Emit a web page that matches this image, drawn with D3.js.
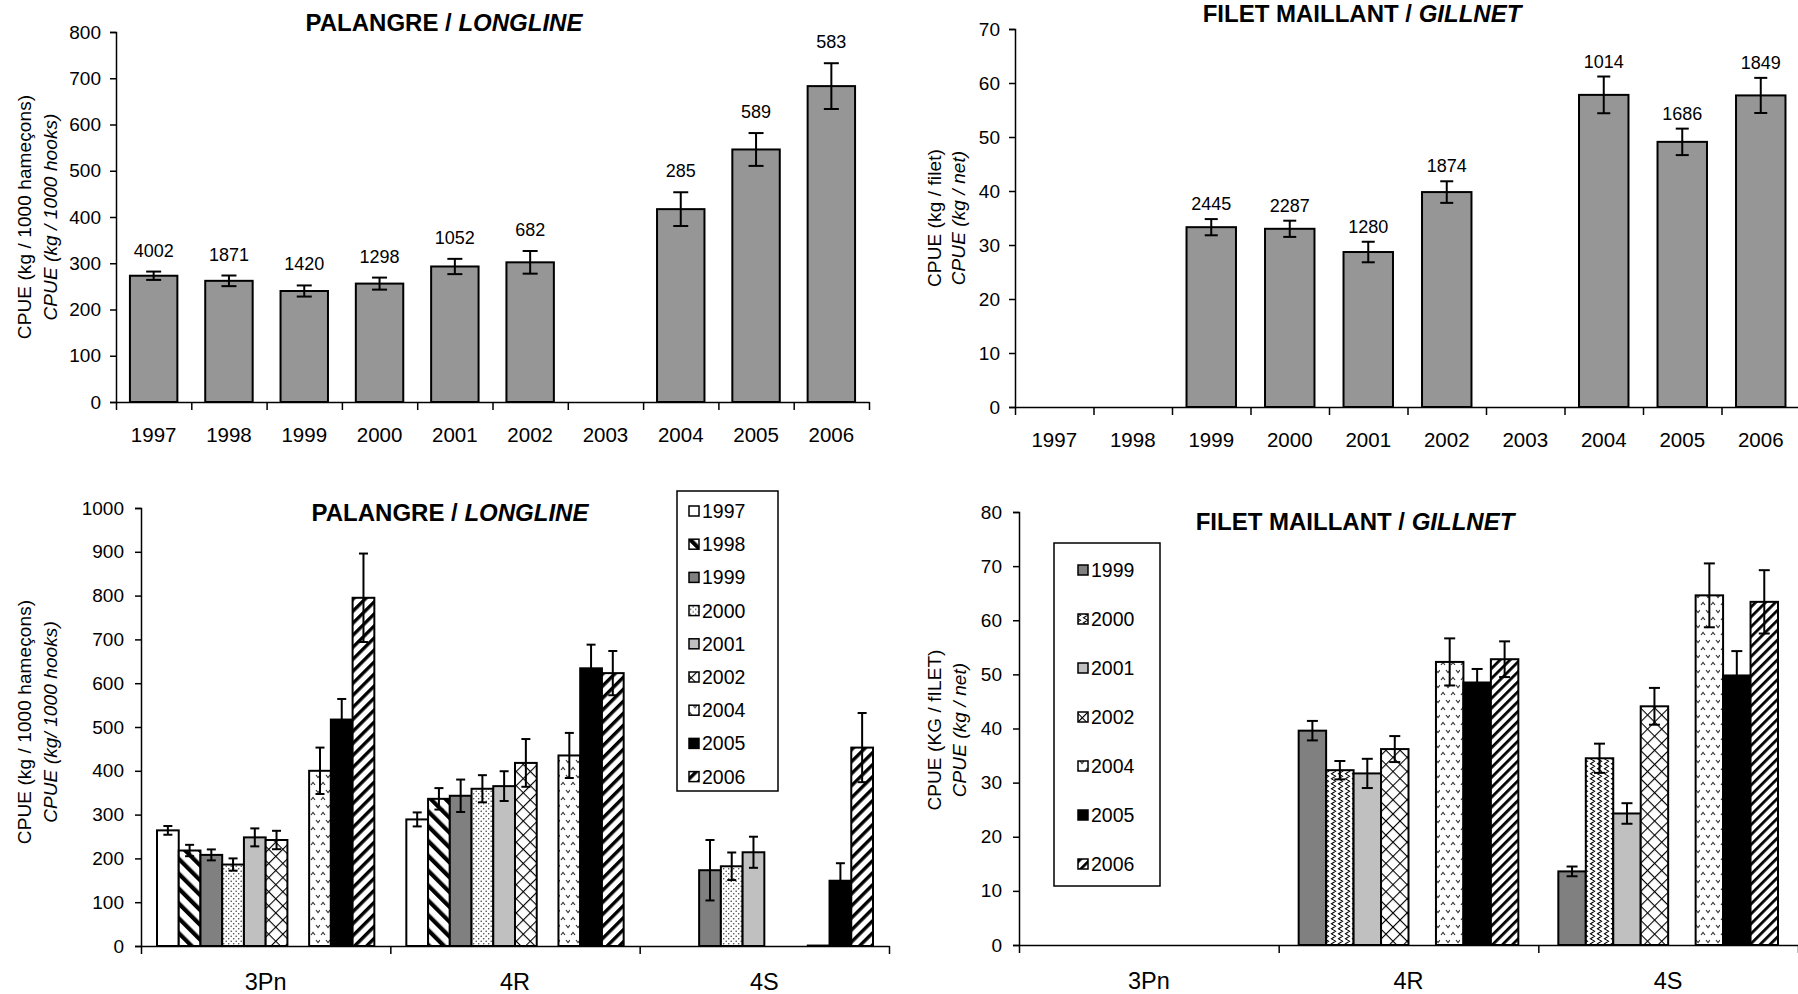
<!DOCTYPE html>
<html>
<head>
<meta charset="utf-8">
<script src="https://cdn.jsdelivr.net/npm/d3@7"></script>
<style>
  body { margin: 0; background: #fff; }
  svg { font-family: "Liberation Sans", Arial, sans-serif; }
</style>
</head>
<body>
<svg id="chart" width="1798" height="994"></svg>
<script>
// ---- data ----
const years = ['1997', '1998', '1999', '2000', '2001', '2002', '2003', '2004', '2005', '2006'];

// top left: longline CPUE by year
const llCpue = [273, 262, 240, 256, 293, 302, null, 417, 546, 683];
const llErr = [9, 11.5, 12, 13, 16.5, 24.5, null, 36.5, 35.5, 49.5];
const llN = ['4002', '1871', '1420', '1298', '1052', '682', '', '285', '589', '583'];

// top right: gillnet CPUE by year
const gnCpue = [null, null, 33.3, 33.0, 28.7, 39.8, null, 57.8, 49.1, 57.7];
const gnErr = [null, null, 1.5, 1.5, 1.9, 2.0, null, 3.4, 2.45, 3.25];
const gnN = ['', '', '2445', '2287', '1280', '1874', '', '1014', '1686', '1849'];

// bottom: by region
const regions = ['3Pn', '4R', '4S'];

// longline series (2003 slot is empty, not in legend)
const llYears = ['1997', '1998', '1999', '2000', '2001', '2002', '2003', '2004', '2005', '2006'];
const ll3Pn = [264, 218, 208, 186, 248, 242, null, 400, 517, 795];
const ll3PnErr = [10, 13, 12.5, 14, 20.5, 21, null, 53, 47, 101];
const ll4R = [289, 336, 343, 359, 365, 418, null, 435, 634, 623];
const ll4RErr = [16, 24.5, 37, 31, 34, 54.5, null, 51.5, 54, 50.5];
const ll4S = [null, null, 173, 182, 214, null, null, 1, 149, 453];
const ll4SErr = [null, null, 69, 31.5, 35.5, null, null, null, 40, 79];

// gillnet series
const gnYears = ['1999', '2000', '2001', '2002', '2003', '2004', '2005', '2006'];
const gn3Pn = [null, null, null, null, null, null, null, null];
const gn3PnErr = [null, null, null, null, null, null, null, null];
const gn4R = [39.6, 32.3, 31.7, 36.2, null, 52.3, 48.5, 52.8];
const gn4RErr = [1.8, 1.7, 2.7, 2.4, null, 4.35, 2.5, 3.3];
const gn4S = [13.6, 34.5, 24.3, 44.1, null, 64.6, 49.8, 63.4];
const gn4SErr = [0.9, 2.7, 1.9, 3.4, null, 5.9, 4.5, 5.85];

const svg = d3.select('#chart');
const defs = svg.append('defs');

// ---- patterns ----
function stripes(id, angle, period, thick) {
    const p = defs.append('pattern').attr('id', id)
        .attr('patternUnits', 'userSpaceOnUse')
        .attr('width', period).attr('height', period)
        .attr('patternTransform', 'rotate(' + angle + ')');
    p.append('rect').attr('width', period).attr('height', period).attr('fill', '#fff');
    p.append('rect').attr('width', thick).attr('height', period).attr('fill', '#000');
}
stripes('back', -45, 10.5, 4.2);
stripes('fwd', 45, 8.5, 3.4);
stripes('fwdS', 45, 7, 2.8);

let p = defs.append('pattern').attr('id', 'hatch')
    .attr('patternUnits', 'userSpaceOnUse').attr('width', 10).attr('height', 10)
    .attr('patternTransform', 'rotate(45)');
p.append('rect').attr('width', 10).attr('height', 10).attr('fill', '#fff');
p.append('line').attr('x1', 0).attr('y1', 0).attr('x2', 0).attr('y2', 10).attr('stroke', '#000').attr('stroke-width', 2.2);
p.append('line').attr('x1', 0).attr('y1', 0).attr('x2', 10).attr('y2', 0).attr('stroke', '#000').attr('stroke-width', 2.2);

p = defs.append('pattern').attr('id', 'dots')
    .attr('patternUnits', 'userSpaceOnUse').attr('width', 5).attr('height', 5);
p.append('rect').attr('width', 5).attr('height', 5).attr('fill', '#fff');
p.append('circle').attr('cx', 1.2).attr('cy', 1.2).attr('r', 0.8).attr('fill', '#444');
p.append('circle').attr('cx', 3.7).attr('cy', 3.7).attr('r', 0.8).attr('fill', '#444');

p = defs.append('pattern').attr('id', 'chev')
    .attr('patternUnits', 'userSpaceOnUse').attr('width', 10).attr('height', 15);
p.append('rect').attr('width', 10).attr('height', 15).attr('fill', '#fff');
p.append('path').attr('d', 'M1,5 L3,2.5 L5,5').attr('fill', 'none').attr('stroke', '#333').attr('stroke-width', 1.2);
p.append('path').attr('d', 'M6,10 L8,12.5 L10,10').attr('fill', 'none').attr('stroke', '#333').attr('stroke-width', 1.2);

p = defs.append('pattern').attr('id', 'wave')
    .attr('patternUnits', 'userSpaceOnUse').attr('width', 7).attr('height', 5);
p.append('rect').attr('width', 7).attr('height', 5).attr('fill', '#fff');
p.append('path').attr('d', 'M3.5,0 L5.5,1.25 L3.5,2.5 L1.5,3.75 L3.5,5').attr('fill', 'none').attr('stroke', '#000').attr('stroke-width', 1.1);

const llFill = {
    '1997': '#fff', '1998': 'url(#back)', '1999': '#808080', '2000': 'url(#dots)',
    '2001': '#c0c0c0', '2002': 'url(#hatch)', '2003': '#fff', '2004': 'url(#chev)',
    '2005': '#000', '2006': 'url(#fwd)'
};
const gnFill = {
    '1999': '#808080', '2000': 'url(#wave)', '2001': '#c0c0c0', '2002': 'url(#hatch)',
    '2003': '#fff', '2004': 'url(#chev)', '2005': '#000', '2006': 'url(#fwdS)'
};

// ---- helpers ----
function yAxis(y, ticks, x0, pad) {
    const g = svg.append('g')
        .attr('transform', 'translate(' + x0 + ',0)')
        .call(d3.axisLeft(y).tickValues(ticks).tickSize(6).tickPadding(pad).tickFormat(d3.format('d')));
    g.selectAll('path, line').attr('stroke', '#000').attr('stroke-width', 1.5);
    g.selectAll('text').attr('font-size', 19).attr('fill', '#000')
        .attr('font-family', '"Liberation Sans", Arial, sans-serif');
}

function xAxis(x, n, left, right, y0, pad, fs) {
    const xb = d3.scaleLinear().domain([0, n]).range([left, right]);
    const g = svg.append('g')
        .attr('transform', 'translate(0,' + y0 + ')')
        .call(d3.axisBottom(xb).tickValues(d3.range(n + 1)).tickFormat('').tickSizeInner(8).tickSizeOuter(0));
    g.selectAll('path, line').attr('stroke', '#000').attr('stroke-width', 1.5);
    const gl = svg.append('g')
        .attr('transform', 'translate(0,' + y0 + ')')
        .call(d3.axisBottom(x).tickSize(0).tickPadding(pad));
    gl.select('.domain').remove();
    gl.selectAll('text').attr('font-size', fs).attr('fill', '#000')
        .attr('font-family', '"Liberation Sans", Arial, sans-serif');
}

function title(x, y, a, b) {
    const t = svg.append('text').attr('x', x).attr('y', y)
        .attr('text-anchor', 'middle').attr('font-size', 24).attr('font-weight', 'bold');
    t.append('tspan').text(a + ' / ');
    t.append('tspan').attr('font-style', 'italic').text(b);
}

function yTitle(x1, x2, cy, a, b) {
    svg.append('text').attr('transform', 'translate(' + x1 + ',' + cy + ') rotate(-90)')
        .attr('text-anchor', 'middle').attr('dy', '0.35em').attr('font-size', 19)
        .attr('letter-spacing', 0.1).text(a);
    svg.append('text').attr('transform', 'translate(' + x2 + ',' + cy + ') rotate(-90)')
        .attr('text-anchor', 'middle').attr('dy', '0.35em').attr('font-size', 19)
        .attr('letter-spacing', 0.1).attr('font-style', 'italic').text(b);
}

function errBars(g, rows, cap) {
    const eg = g.selectAll('.err').data(rows.filter(d => d.v != null && d.e != null))
        .enter().append('g').attr('stroke', '#000').attr('stroke-width', 2);
    eg.append('line').attr('x1', d => d.cx).attr('x2', d => d.cx)
        .attr('y1', d => d.y(d.v + d.e)).attr('y2', d => d.y(d.v - d.e));
    eg.append('line').attr('x1', d => d.cx - cap / 2).attr('x2', d => d.cx + cap / 2)
        .attr('y1', d => d.y(d.v + d.e)).attr('y2', d => d.y(d.v + d.e));
    eg.append('line').attr('x1', d => d.cx - cap / 2).attr('x2', d => d.cx + cap / 2)
        .attr('y1', d => d.y(d.v - d.e)).attr('y2', d => d.y(d.v - d.e));
}

// ---- single-series year charts ----
function yearChart(o) {
    const y = d3.scaleLinear().domain([0, o.max]).range([o.bottom, o.top]);
    const x = d3.scaleBand().domain(years).range([o.left, o.right])
        .paddingInner(0.37).paddingOuter(0.185);
    const rows = years.map((yr, i) => ({
        yr: yr, v: o.vals[i], e: o.err[i], n: o.labels[i], y: y,
        cx: x(yr) + x.bandwidth() / 2
    }));
    const g = svg.append('g');
    g.selectAll('rect').data(rows.filter(d => d.v != null)).enter().append('rect')
        .attr('x', d => x(d.yr)).attr('width', x.bandwidth())
        .attr('y', d => y(d.v)).attr('height', d => y(0) - y(d.v))
        .attr('fill', '#969696').attr('stroke', '#000').attr('stroke-width', 2);
    errBars(g, rows, o.cap);
    g.selectAll('.lab').data(rows.filter(d => d.v != null)).enter().append('text')
        .attr('x', d => d.cx).attr('y', d => y(d.v + d.e) - o.labOff)
        .attr('text-anchor', 'middle').attr('font-size', 18).text(d => d.n);
    xAxis(x, years.length, o.left, o.right, o.bottom, 25, 20.5);
    yAxis(y, d3.range(0, o.max + 1, o.step), o.left, 9);
}

yearChart({ left: 116, right: 869, top: 32, bottom: 402, max: 800, step: 100,
    vals: llCpue, err: llErr, labels: llN, cap: 15, labOff: 15 });
yearChart({ left: 1015, right: 1800, top: 29, bottom: 407, max: 70, step: 10,
    vals: gnCpue, err: gnErr, labels: gnN, cap: 13, labOff: 9 });

title(444, 31, 'PALANGRE', 'LONGLINE');
title(1362, 22, 'FILET MAILLANT', 'GILLNET');
yTitle(24, 50, 217, 'CPUE (kg / 1000 hameçons)', 'CPUE (kg / 1000 hooks)');
yTitle(934, 958, 218, 'CPUE (kg / filet)', 'CPUE (kg / net)');

// ---- grouped region charts ----
function regionChart(o) {
    const y = d3.scaleLinear().domain([0, o.max]).range([o.bottom, o.top]);
    const x0 = d3.scaleBand().domain(regions).range([o.left, o.right]);
    const x1 = d3.scaleBand().domain(o.series).range([o.inset, x0.bandwidth() - o.inset]);
    const g = svg.append('g');
    const rows = [];
    regions.forEach((r, ri) => {
        o.series.forEach((s, si) => {
            rows.push({ r: r, s: s, v: o.vals[ri][si], e: o.errs[ri][si], y: y,
                cx: x0(r) + x1(s) + x1.bandwidth() / 2 });
        });
    });
    g.selectAll('rect').data(rows.filter(d => d.v != null)).enter().append('rect')
        .attr('x', d => x0(d.r) + x1(d.s)).attr('width', x1.bandwidth())
        .attr('y', d => y(d.v)).attr('height', d => y(0) - y(d.v))
        .attr('fill', d => o.fill[d.s]).attr('stroke', '#000').attr('stroke-width', 2);
    errBars(g, rows, o.cap);
    xAxis(x0, regions.length, o.left, o.right, o.bottom, 27, 23.5);
    yAxis(y, d3.range(0, o.max + 1, o.step), o.left, 11);

    // legend
    const lg = svg.append('g').attr('transform', 'translate(' + o.lx + ',' + o.ly + ')');
    lg.append('rect').attr('width', o.lw).attr('height', o.lh)
        .attr('fill', '#fff').attr('stroke', '#000').attr('stroke-width', 1.5);
    const items = o.series.filter(s => s !== '2003');
    const it = lg.selectAll('.it').data(items).enter().append('g')
        .attr('transform', (d, i) => 'translate(0,' + (o.lfirst + i * o.lstep) + ')');
    it.append('rect').attr('x', o.sx).attr('y', -5).attr('width', 10).attr('height', 10)
        .attr('fill', d => o.fill[d]).attr('stroke', '#000').attr('stroke-width', 1.5);
    it.append('text').attr('x', o.sx + 13).attr('dy', '0.36em').attr('font-size', 19.5).text(d => d);
}

regionChart({ left: 141, right: 889, top: 508, bottom: 946, max: 1000, step: 100,
    series: llYears, vals: [ll3Pn, ll4R, ll4S], errs: [ll3PnErr, ll4RErr, ll4SErr],
    fill: llFill, inset: 16, cap: 9,
    lx: 677, ly: 491, lw: 101, lh: 300, lfirst: 20, lstep: 33.2, sx: 12 });

regionChart({ left: 1019, right: 1798, top: 512, bottom: 945, max: 80, step: 10,
    series: gnYears, vals: [gn3Pn, gn4R, gn4S], errs: [gn3PnErr, gn4RErr, gn4SErr],
    fill: gnFill, inset: 20, cap: 11,
    lx: 1054, ly: 543, lw: 106, lh: 343, lfirst: 27, lstep: 49, sx: 24 });

title(450, 521, 'PALANGRE', 'LONGLINE');
title(1355, 530, 'FILET MAILLANT', 'GILLNET');
yTitle(24, 50, 722, 'CPUE (kg / 1000 hameçons)', 'CPUE (kg/ 1000 hooks)');
yTitle(934, 959, 730, 'CPUE (KG / fILET)', 'CPUE (kg / net)');
</script>
</body>
</html>
